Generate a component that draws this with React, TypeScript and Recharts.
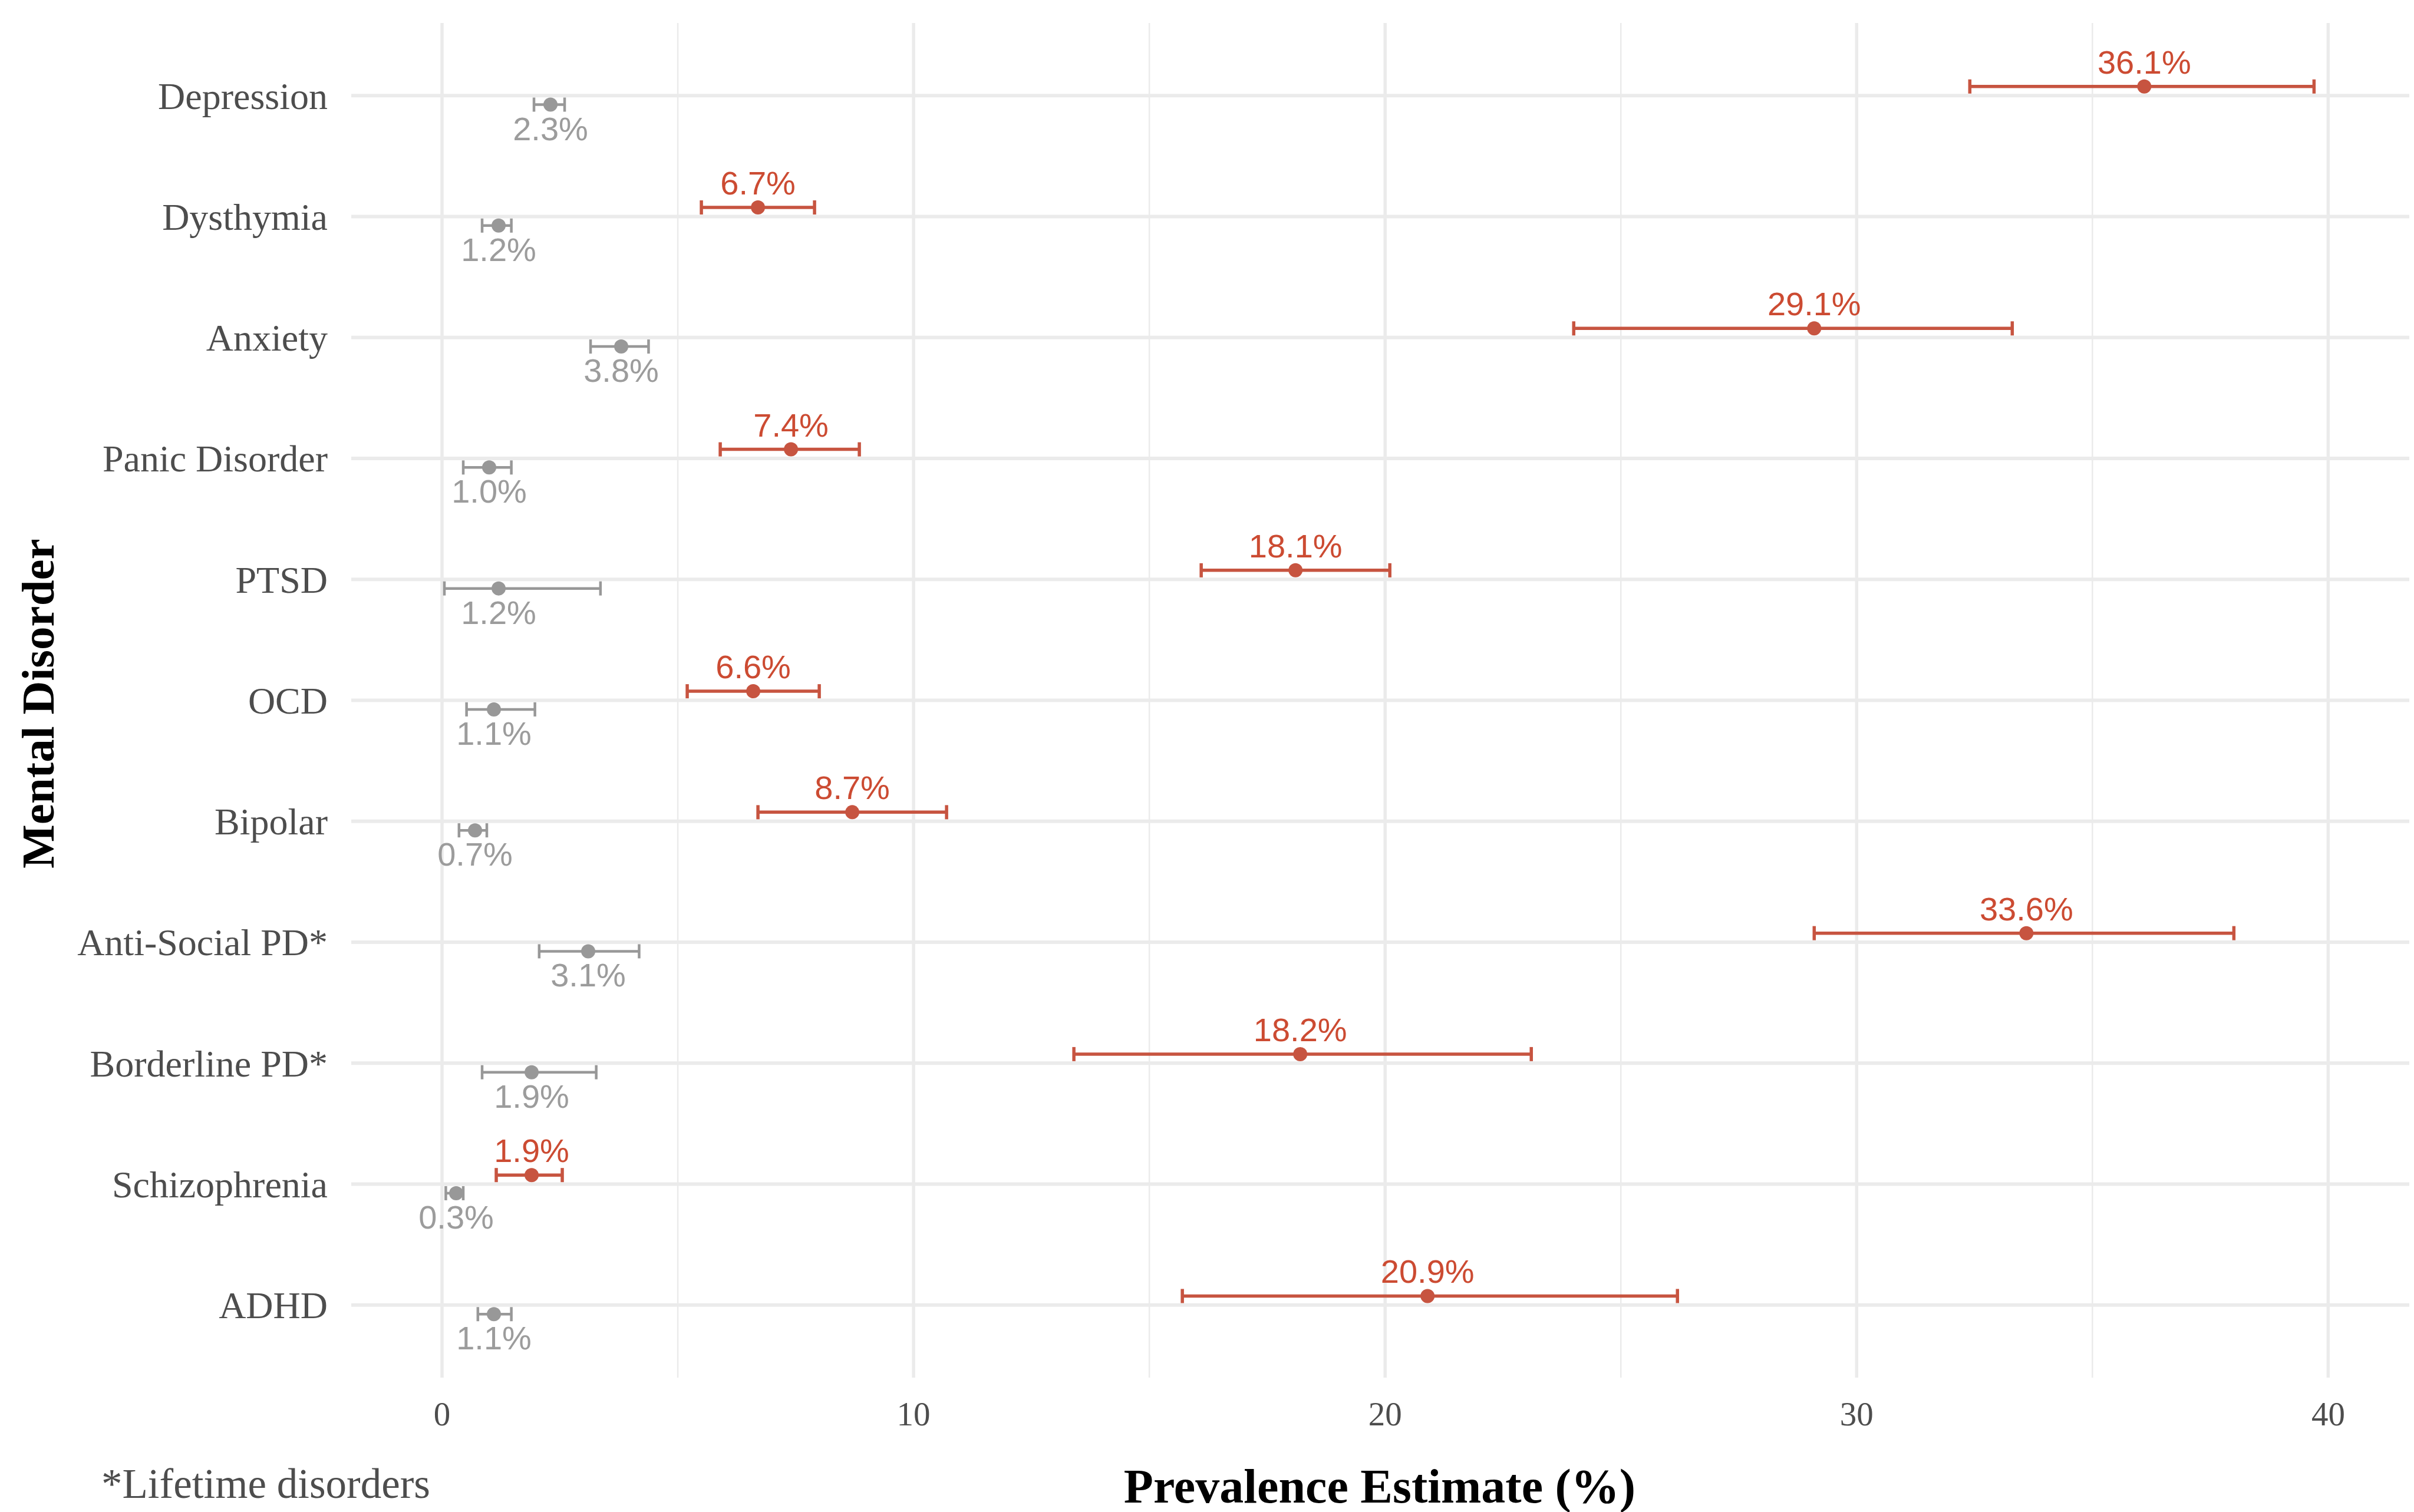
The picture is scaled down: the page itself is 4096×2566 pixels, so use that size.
import { ComposedChart, Scatter, ErrorBar, XAxis, YAxis, ReferenceLine } from "recharts";

const disorders = [
  "Depression",
  "Dysthymia",
  "Anxiety",
  "Panic Disorder",
  "PTSD",
  "OCD",
  "Bipolar",
  "Anti-Social PD*",
  "Borderline PD*",
  "Schizophrenia",
  "ADHD",
];

// red series (upper)
const redEst = [36.1, 6.7, 29.1, 7.4, 18.1, 6.6, 8.7, 33.6, 18.2, 1.9, 20.9];
const redLow = [32.4, 5.5, 24.0, 5.9, 16.1, 5.2, 6.7, 29.1, 13.4, 1.15, 15.7];
const redHigh = [39.7, 7.9, 33.3, 8.85, 20.1, 8.0, 10.7, 38.0, 23.1, 2.55, 26.2];

// grey series (lower)
const greyEst = [2.3, 1.2, 3.8, 1.0, 1.2, 1.1, 0.7, 3.1, 1.9, 0.3, 1.1];
const greyLow = [1.95, 0.85, 3.15, 0.45, 0.05, 0.52, 0.36, 2.06, 0.85, 0.08, 0.76];
const greyHigh = [2.6, 1.47, 4.38, 1.47, 3.36, 1.97, 0.95, 4.18, 3.27, 0.45, 1.47];

const majorTicks = [0, 10, 20, 30, 40];
const minorTicks = [5, 15, 25, 35];

const RED = "#C75440";
const RED_TEXT = "#CC4B32";
const GREY = "#989898";
const GREY_TEXT = "#9C9C9C";
const GRID = "#EBEBEB";
const DODGE = 0.075;

const rows = (est: number[], lo: number[], hi: number[], shift: number) =>
  est.map((v, i) => ({
    x: v,
    y: i + shift,
    err: [v - lo[i], hi[i] - v],
    label: `${v.toFixed(1)}%`,
  }));

const redRows = rows(redEst, redLow, redHigh, -DODGE);
const greyRows = rows(greyEst, greyLow, greyHigh, DODGE);

const pointShape = (color: string, textColor: string, above: boolean) => (props: any) => {
  const { cx, cy, payload } = props;
  return (
    <g>
      <circle cx={cx} cy={cy} r={12} fill={color} />
      <text
        x={cx}
        y={above ? cy - 22 : cy + 60}
        textAnchor="middle"
        fontFamily="Liberation Sans, Arial, sans-serif"
        fontSize={56}
        fill={textColor}
      >
        {payload.label}
      </text>
    </g>
  );
};

const CategoryTick = ({ x, y, payload }: any) => (
  <text
    x={x}
    y={y}
    dy="0.35em"
    textAnchor="end"
    fontFamily="Liberation Serif, serif"
    fontSize={64}
    fill="#4D4D4D"
  >
    {disorders[payload.value]}
  </text>
);

const ValueTick = ({ x, y, payload }: any) => (
  <text
    x={x}
    y={y}
    dy="0.71em"
    textAnchor="middle"
    fontFamily="Liberation Serif, serif"
    fontSize={57}
    fill="#4D4D4D"
  >
    {payload.value}
  </text>
);

export default function App() {
  return (
    <div style={{ position: "absolute", left: 0, top: 0, width: 4096, height: 2566, background: "#fff" }}>
      <ComposedChart width={4096} height={2566} margin={{ top: 39, right: 8, left: 0, bottom: 0 }}>
        <XAxis
          type="number"
          dataKey="x"
          domain={[-1.925, 41.72]}
          allowDataOverflow
          ticks={majorTicks}
          interval={0}
          height={228}
          axisLine={false}
          tickLine={false}
          tickSize={0}
          tickMargin={41}
          tick={<ValueTick />}
        />
        <YAxis
          type="number"
          dataKey="y"
          domain={[-0.6, 10.6]}
          allowDataOverflow
          reversed
          ticks={disorders.map((_, i) => i)}
          interval={0}
          width={596}
          axisLine={false}
          tickLine={false}
          tickSize={0}
          tickMargin={40}
          tick={<CategoryTick />}
        />
        {minorTicks.map((t) => (
          <ReferenceLine key={`m${t}`} x={t} stroke={GRID} strokeWidth={2.5} />
        ))}
        {majorTicks.map((t) => (
          <ReferenceLine key={`M${t}`} x={t} stroke={GRID} strokeWidth={5.5} />
        ))}
        {disorders.map((_, i) => (
          <ReferenceLine key={`h${i}`} y={i} stroke={GRID} strokeWidth={6} />
        ))}
        <Scatter data={greyRows} isAnimationActive={false} shape={pointShape(GREY, GREY_TEXT, false)}>
          <ErrorBar dataKey="err" direction="x" width={12} stroke={GREY} strokeWidth={4.5} isAnimationActive={false} />
        </Scatter>
        <Scatter data={redRows} isAnimationActive={false} shape={pointShape(RED, RED_TEXT, true)}>
          <ErrorBar dataKey="err" direction="x" width={12} stroke={RED} strokeWidth={5.5} isAnimationActive={false} />
        </Scatter>
      </ComposedChart>
      <div
        style={{
          position: "absolute",
          left: 65,
          top: 1194,
          transform: "translate(-50%, -50%) rotate(-90deg)",
          fontFamily: "Liberation Serif, serif",
          fontWeight: "bold",
          fontSize: 79,
          color: "#000",
          whiteSpace: "nowrap",
        }}
      >
        Mental Disorder
      </div>
      <div
        style={{
          position: "absolute",
          left: 2341,
          top: 2523,
          transform: "translate(-50%, -50%)",
          fontFamily: "Liberation Serif, serif",
          fontWeight: "bold",
          fontSize: 82,
          color: "#000",
          whiteSpace: "nowrap",
        }}
      >
        Prevalence Estimate (%)
      </div>
      <div
        style={{
          position: "absolute",
          left: 172,
          top: 2518,
          transform: "translateY(-50%)",
          fontFamily: "Liberation Serif, serif",
          fontSize: 71,
          color: "#4D4D4D",
          whiteSpace: "nowrap",
        }}
      >
        *Lifetime disorders
      </div>
    </div>
  );
}
